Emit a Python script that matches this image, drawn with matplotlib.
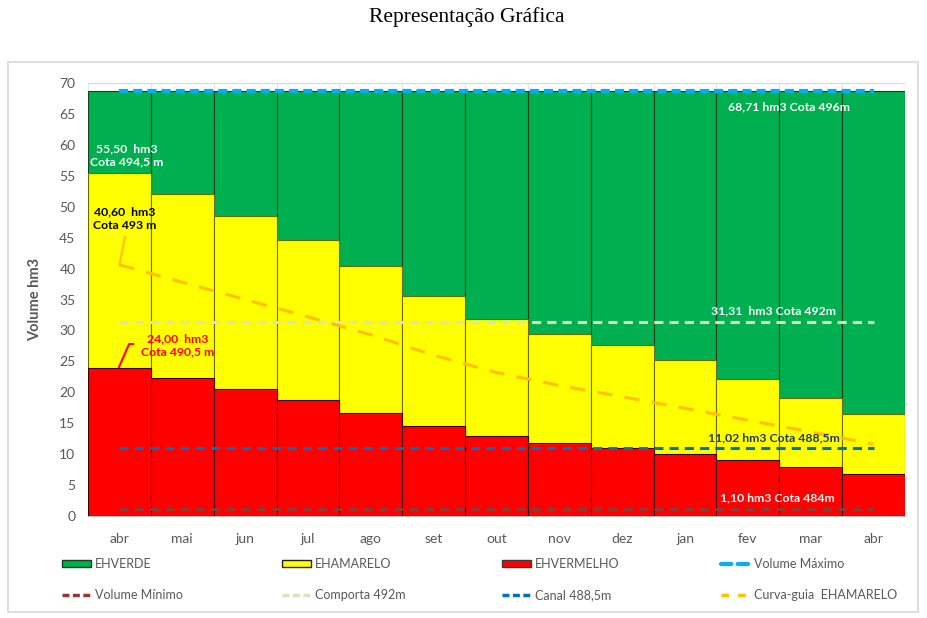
import matplotlib
matplotlib.use('Agg')
import matplotlib.pyplot as plt
import numpy as np
from matplotlib.patches import Rectangle, Patch
from matplotlib.lines import Line2D

plt.rcParams['font.family'] = ['Lato', 'DejaVu Sans']

# data
meses = ['abr', 'mai', 'jun', 'jul', 'ago', 'set', 'out', 'nov', 'dez', 'jan', 'fev', 'mar', 'abr']
verde = [68.71] * 13
amarelo = [55.5, 52.0, 48.5, 44.6, 40.4, 35.6, 31.8, 29.5, 27.7, 25.3, 22.2, 19.1, 16.5]
vermelho = [24.0, 22.3, 20.6, 18.7, 16.7, 14.6, 12.9, 11.8, 11.0, 10.0, 9.0, 7.9, 6.8]
curva_guia = [40.6, 37.8, 35.0, 32.2, 29.3, 26.0, 23.2, 21.1, 19.3, 17.4, 15.5, 13.6, 11.6]
vol_max = 68.71
comporta = 31.31
canal = 11.02
vol_min = 1.10

grey = '#595959'
x = np.arange(len(meses))

fig = plt.figure(figsize=(9.27, 6.18), dpi=100)
ax = fig.add_axes([0.0949, 0.165, 0.8814, 0.7007])

# frame around the chart area
fig.patches.append(Rectangle((8/927, 1-612/618), 910/927, 550/618, transform=fig.transFigure,
                             fill=False, ec='#d9d9d9', lw=1.2))

fig.text(0.504, 0.973, 'Representação Gráfica', ha='center', va='center',
         family='Liberation Serif', size=15.5, color='black')

ax.bar(x, verde, width=1, color='#00B050', ec='#1a3d1a', lw=0.8, zorder=2)
ax.bar(x, amarelo, width=1, color='#FFFF00', ec='#6b6b00', lw=0.8, zorder=3)
ax.bar(x, vermelho, width=1, color='#FF0000', ec='#3a0000', lw=0.8, zorder=4)

ax.hlines(vol_max, 0, 12, colors='#00B0F0', lw=3, linestyles=(0, (2.2, 1.2)), zorder=6)
ax.hlines(comporta, 0, 12, colors='#D8E4BC', lw=2.2, linestyles=(0, (3, 2)), zorder=6)
ax.hlines(canal, 0, 12, colors='#0070C0', lw=2.2, linestyles=(0, (3, 2)), zorder=6)
ax.hlines(vol_min, 0, 12, colors='#953735', lw=2.2, linestyles=(0, (3, 2)), zorder=6)
ax.plot(x, curva_guia, color='#FFC000', lw=2.2, ls=(0, (5, 4)), zorder=6)

# leader lines
ax.plot([0.089, 0], [45.1, 40.6], color='#FFC000', lw=1.5, zorder=7)
ax.plot([0.22, 0.155, -0.006], [27.8, 27.8, 24.1], color='#FF0000', lw=1.5, zorder=7)

kw = dict(ha='center', va='center', fontweight='bold', fontsize=8.8, zorder=8)
ax.text(0.12, 58.3, '55,50  hm3\nCota 494,5 m', color='white', linespacing=1.3, **kw)
ax.text(0.09, 48.1, '40,60  hm3\nCota 493 m', color='black', linespacing=1.3, **kw)
ax.text(0.93, 27.6, '24,00  hm3\nCota 490,5 m', color='#FF0000', linespacing=1.3, **kw)
ax.text(10.65, 66.2, '68,71 hm3 Cota 496m', color='white', **kw)
ax.text(10.41, 33.1, '31,31  hm3 Cota 492m', color='white', **kw)
ax.text(10.41, 12.6, '11,02 hm3 Cota 488,5m', color='#1F3864', **kw)
ax.text(10.47, 2.9, '1,10 hm3 Cota 484m', color='white', **kw)

ax.set_xlim(-0.5, 12.5)
ax.set_ylim(0, 70)
ax.set_yticks(np.arange(0, 71, 5))
ax.set_xticks(x)
ax.set_xticklabels(meses)
ax.set_xticks(np.arange(-0.5, 13, 0.5), minor=True)
ax.grid(axis='y', color='#d9d9d9', lw=0.8, zorder=0)
ax.grid(axis='x', which='minor', color='#e6e6e6', lw=0.8, zorder=0)
ax.tick_params(axis='both', which='both', length=0, labelsize=10, labelcolor=grey)
ax.tick_params(axis='x', pad=12)
ax.tick_params(axis='y', pad=9)
for s in ['top', 'right', 'left']:
    ax.spines[s].set_visible(False)
ax.spines['bottom'].set_color('#bfbfbf')
ax.set_ylabel('Volume hm3', fontsize=10.5, fontweight='bold', color=grey, labelpad=12)

columns = [
    [Patch(fc='#00B050', ec='#1a3d1a', label='EHVERDE'),
     Line2D([], [], color='#953735', lw=2.5, ls=(0, (2, 1)), label='Volume Mínimo')],
    [Patch(fc='#FFFF00', ec='#222222', label='EHAMARELO'),
     Line2D([], [], color='#D8E4BC', lw=2.5, ls=(0, (2, 1)), label='Comporta 492m')],
    [Patch(fc='#FF0000', ec='#3a3a3a', label='EHVERMELHO'),
     Line2D([], [], color='#0070C0', lw=2.5, ls=(0, (2, 1)), label='Canal 488,5m')],
    [Line2D([], [], color='#00B0F0', lw=3, ls=(0, (2.5, 1.5)), solid_capstyle='round',
            dash_capstyle='round', label='Volume Máximo'),
     Line2D([], [], color='#FFC000', lw=2.5, ls=(0, (2.2, 2.6)), label='Curva-guia  EHAMARELO')],
]
col_x = [62, 282, 502, 721]
for cx, hs in zip(col_x, columns):
    leg = fig.legend(handles=hs, loc='upper left', bbox_to_anchor=(cx/927, 1-558/618),
                     frameon=False, fontsize=9, handlelength=2.3, handleheight=0.5,
                     handletextpad=0.35, labelspacing=1.55, borderpad=0, borderaxespad=0)
    for t in leg.get_texts():
        t.set_color(grey)

fig.savefig('out.png', dpi=100)
